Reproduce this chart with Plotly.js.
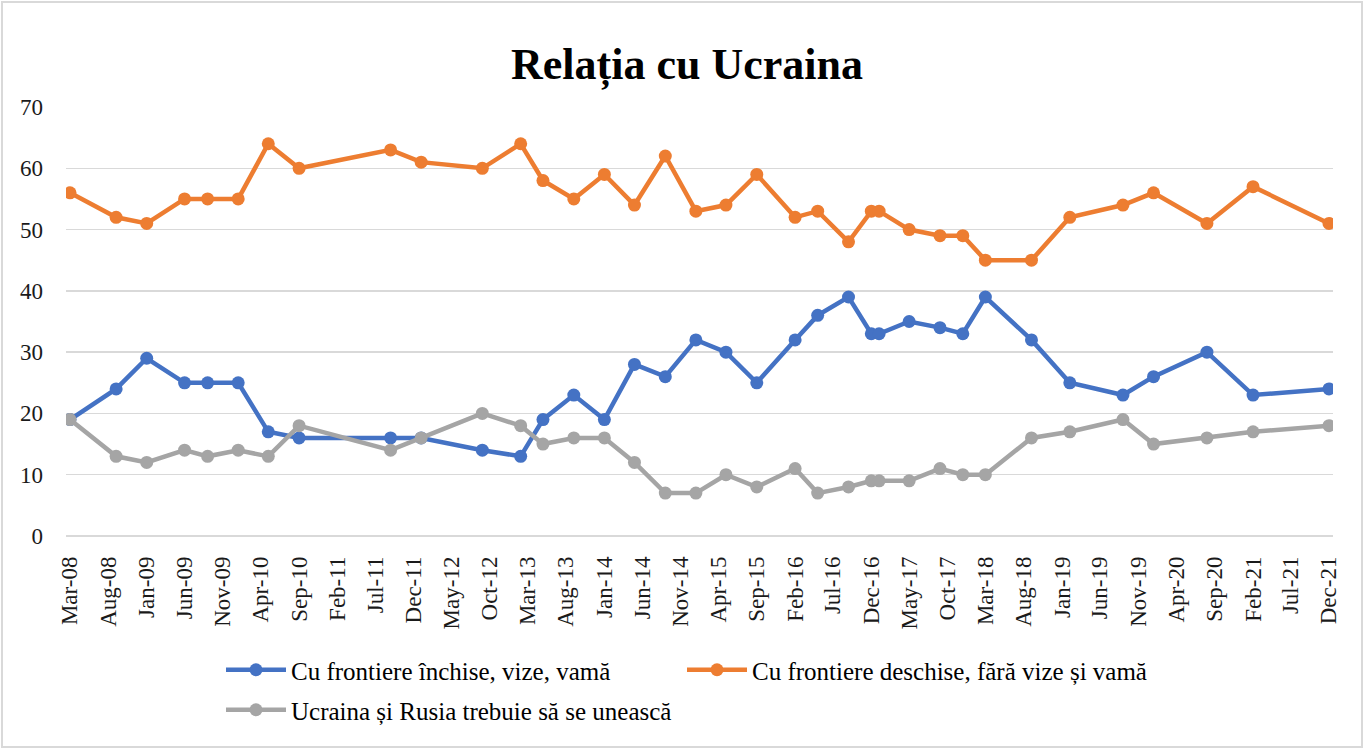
<!DOCTYPE html>
<html>
<head>
<meta charset="utf-8">
<script src="https://cdn.plot.ly/plotly-3.0.1.min.js"></script>
<style>
  html, body { margin: 0; padding: 0; background: #fff; }
  #wrap { position: relative; width: 1364px; height: 750px; }
  #chart { width: 1364px; height: 750px; }
  #frame { position: absolute; left: 1px; top: 1px; right: 1px; bottom: 2px; border: 2px solid #d9d9d9; pointer-events: none; }
</style>
</head>
<body>
<div id="wrap"><div id="chart"></div><div id="frame"></div></div>
<script>
const dates = ['2008-03','2008-09','2009-01','2009-06','2009-09','2010-01','2010-05','2010-09','2011-09','2012-01',
  '2012-09','2013-02','2013-05','2013-09','2014-01','2014-05','2014-09','2015-01','2015-05','2015-09',
  '2016-02','2016-05','2016-09','2016-12','2017-01','2017-05','2017-09','2017-12','2018-03','2018-09',
  '2019-02','2019-09','2020-01','2020-08','2021-02','2021-12'];
const closedBorders = [19,24,29,25,25,25,17,16,16,16,14,13,19,23,19,28,26,32,30,25,32,36,39,33,33,35,34,33,39,32,25,23,26,30,23,24];
const openBorders = [56,52,51,55,55,55,64,60,63,61,60,64,58,55,59,54,62,53,54,59,52,53,48,53,53,50,49,49,45,45,52,54,56,51,57,51];
const unite = [19,13,12,14,13,14,13,18,14,16,20,18,15,16,16,12,7,7,10,8,11,7,8,9,9,9,11,10,10,16,17,19,15,16,17,18];
const seriesNames = ['Cu frontiere închise, vize, vamă','Cu frontiere deschise, fără vize și vamă','Ucraina și Rusia trebuie să se unească'];
const titleText = 'Relația cu Ucraina';

const serif = 'Liberation Serif, Times New Roman, serif';
const colors = ['#4472C4','#ED7D31','#A5A5A5'];
const vals = [closedBorders, openBorders, unite];
const legendIds = ['legend','legend2','legend3'];

const traces = vals.map((v,i) => ({
  type: 'scatter', mode: 'lines+markers', name: seriesNames[i],
  x: dates, y: v,
  line: {color: colors[i], width: 4.5},
  marker: {color: colors[i], size: 13},
  legend: legendIds[i]
}));
const legBase = {orientation: 'h', xanchor: 'left', yanchor: 'middle', bgcolor: 'rgba(0,0,0,0)',
  font: {family: serif, size: 25, color: '#000'}, itemwidth: 60};

const layout = {
  width: 1364, height: 750,
  font: {family: serif},
  paper_bgcolor: '#fff', plot_bgcolor: '#fff',
  margin: {l: 66, r: 31, t: 107, b: 214},
  title: {text: titleText, font: {family: serif, size: 44, color: '#000', weight: 'bold'},
    x: 687/1364, xref: 'container', xanchor: 'center', y: 1 - 64/750, yref: 'container', yanchor: 'middle'},
  xaxis: {type: 'date', range: ['2008-02-14','2021-12-17'], tick0: '2008-03-01', dtick: 'M5',
    tickformat: '%b-%y', tickangle: -90, showgrid: false, zeroline: false, showline: false,
    ticks: '', ticklabelstandoff: 15, tickfont: {family: serif, size: 23, color: '#1a1a1a'}},
  yaxis: {range: [0, 70], dtick: 10, showgrid: true, gridcolor: '#d9d9d9', gridwidth: 1.5,
    zeroline: true, zerolinecolor: '#d9d9d9', zerolinewidth: 1.5, showline: false, ticks: '',
    ticklabelstandoff: 22, tickfont: {family: serif, size: 23, color: '#1a1a1a'}},
  legend: Object.assign({}, legBase, {x: (221-66)/1267, y: (536-670)/429}),
  legend2: Object.assign({}, legBase, {x: (682-66)/1267, y: (536-670)/429}),
  legend3: Object.assign({}, legBase, {x: (221-66)/1267, y: (536-710)/429}),
  showlegend: true
};
Plotly.newPlot('chart', traces, layout, {displayModeBar: false, staticPlot: true});
</script>
</body>
</html>
